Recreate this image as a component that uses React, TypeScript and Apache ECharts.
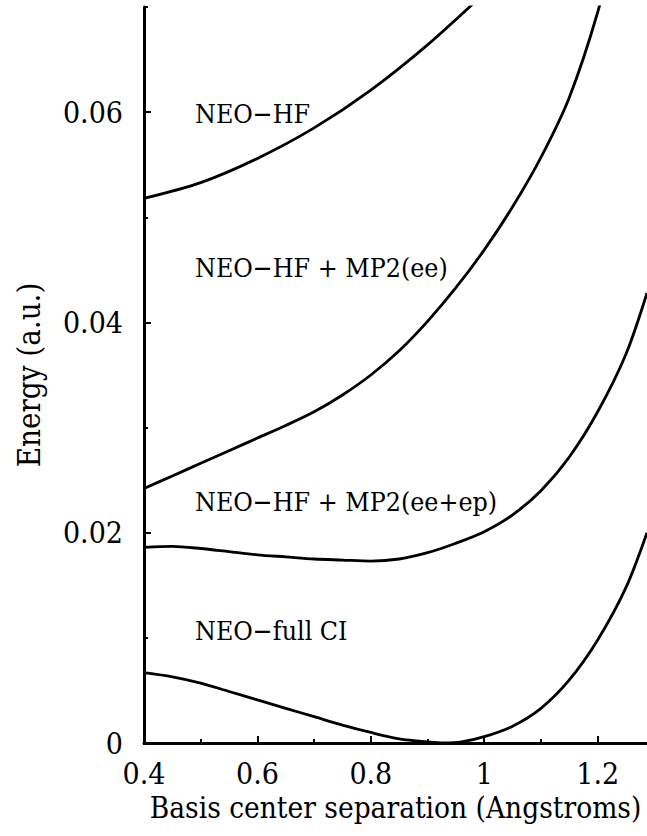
import React, { useEffect, useRef } from "react";
import * as echarts from "echarts";

// Axis ticks and labels
const xTickValues = [0.4, 0.6, 0.8, 1.0, 1.2];
const xMinorTickValues = [0.5, 0.7, 0.9, 1.1];
const yTickValues = [0, 0.02, 0.04, 0.06];
const yMinorTickValues = [0.01, 0.03, 0.05, 0.07];

// NEO-HF
const hfX = [0.4, 0.5, 0.6, 0.7, 0.8, 0.9, 1.0];
const hfY = [0.0518, 0.0533, 0.0556, 0.0585, 0.0621, 0.0664, 0.0713];

// NEO-HF + MP2(ee)
const mp2eeX = [0.4, 0.45, 0.5, 0.55, 0.6, 0.65, 0.7, 0.75, 0.8, 0.85, 0.9, 0.95, 1.0, 1.05, 1.1, 1.15, 1.2, 1.25];
const mp2eeY = [0.0242, 0.0254, 0.0266, 0.0278, 0.029, 0.0302, 0.0315, 0.0331, 0.035, 0.0373, 0.0401, 0.0433, 0.0469, 0.051, 0.0557, 0.0614, 0.0695, 0.08];

// NEO-HF + MP2(ee+ep)
const mp2eepX = [0.4, 0.45, 0.5, 0.55, 0.6, 0.65, 0.7, 0.75, 0.8, 0.85, 0.9, 0.95, 1.0, 1.05, 1.1, 1.15, 1.2, 1.25, 1.287];
const mp2eepY = [0.0186, 0.0187, 0.0185, 0.0182, 0.0179, 0.0177, 0.0175, 0.0174, 0.0173, 0.0175, 0.0181, 0.019, 0.0201, 0.0217, 0.024, 0.0272, 0.0315, 0.037, 0.0428];

// NEO-full CI
const fciX = [0.4, 0.45, 0.5, 0.55, 0.6, 0.65, 0.7, 0.75, 0.8, 0.85, 0.9, 0.93, 0.96, 1.0, 1.05, 1.1, 1.15, 1.2, 1.25, 1.287];
const fciY = [0.0067, 0.0063, 0.0057, 0.0049, 0.0041, 0.0033, 0.0025, 0.0017, 0.001, 0.0004, 0.0001, 0.0, 0.0001, 0.0006, 0.0016, 0.0033, 0.006, 0.0098, 0.0148, 0.02];

// Curve annotations (data coordinates)
const curveLabels = ["NEO\u2212HF", "NEO\u2212HF + MP2(ee)", "NEO\u2212HF + MP2(ee+ep)", "NEO\u2212full CI"];
const labelX = [0.49, 0.49, 0.49, 0.49];
const labelY = [0.0599, 0.0452, 0.023, 0.0107];

const X_MIN = 0.4;
const X_MAX = 1.287;
const Y_MIN = 0;
const Y_MAX = 0.07;

export default function App() {
  const ref = useRef<HTMLDivElement>(null);
  useEffect(() => {
    if (!ref.current) return;
    const chart = echarts.init(ref.current, null, { renderer: "svg" });
    const font = "DejaVu Serif Condensed";
    const zip = (xs: number[], ys: number[]) => xs.map((x, i) => [x, ys[i]]);
    const curves: [string, number[], number[]][] = [
      ["NEO-HF", hfX, hfY],
      ["NEO-HF + MP2(ee)", mp2eeX, mp2eeY],
      ["NEO-HF + MP2(ee+ep)", mp2eepX, mp2eepY],
      ["NEO-full CI", fciX, fciY],
    ];
    const series = curves.map(([name, xs, ys]) => ({
      type: "line",
      name,
      data: zip(xs, ys),
      smooth: 0.3,
      symbol: "none",
      showSymbol: false,
      clip: true,
      silent: true,
      xAxisIndex: 0,
      yAxisIndex: 0,
      lineStyle: { color: "#000", width: 2.8 },
    }));
    const tickLine = { color: "#000", width: 2 };
    const option: any = {
      animation: false,
      backgroundColor: "#fff",
      grid: { left: 144, right: 0, top: 7, bottom: 93, containLabel: false },
      xAxis: [
        {
          type: "value",
          min: X_MIN,
          max: X_MAX,
          position: "bottom",
          name: "Basis center separation (Angstroms)",
          nameLocation: "middle",
          nameGap: 46,
          nameTextStyle: { fontFamily: font, fontSize: 29.5, color: "#000" },
          axisLine: { show: true, onZero: false, lineStyle: { color: "#000", width: 3 } },
          axisTick: { show: true, inside: true, length: 7, customValues: xTickValues, lineStyle: tickLine },
          axisLabel: { show: true, customValues: xTickValues, fontFamily: font, fontSize: 30, color: "#000", margin: 15 },
          splitLine: { show: false },
        },
        {
          type: "value",
          min: X_MIN,
          max: X_MAX,
          position: "bottom",
          axisLine: { show: false, onZero: false },
          axisTick: { show: true, inside: true, length: 4, customValues: xMinorTickValues, lineStyle: tickLine },
          axisLabel: { show: false },
          splitLine: { show: false },
        },
      ],
      yAxis: [
        {
          type: "value",
          min: Y_MIN,
          max: Y_MAX,
          position: "left",
          name: "Energy (a.u.)",
          nameLocation: "middle",
          nameGap: 100,
          nameTextStyle: { fontFamily: font, fontSize: 31, color: "#000" },
          axisLine: { show: true, onZero: false, lineStyle: { color: "#000", width: 3 } },
          axisTick: { show: true, inside: true, length: 7, customValues: yTickValues, lineStyle: tickLine },
          axisLabel: { show: true, customValues: yTickValues, fontFamily: font, fontSize: 30, color: "#000", margin: 21 },
          splitLine: { show: false },
        },
        {
          type: "value",
          min: Y_MIN,
          max: Y_MAX,
          position: "left",
          axisLine: { show: false, onZero: false },
          axisTick: { show: true, inside: true, length: 4, customValues: yMinorTickValues, lineStyle: tickLine },
          axisLabel: { show: false },
          splitLine: { show: false },
        },
      ],
      series,
    };
    chart.setOption(option);
    const graphics = curveLabels.map((t, i) => {
      const p = chart.convertToPixel({ xAxisIndex: 0, yAxisIndex: 0 } as any, [labelX[i], labelY[i]]) as number[];
      return {
        type: "text",
        x: p[0],
        y: p[1],
        silent: true,
        style: {
          text: t,
          fill: "#000",
          fontFamily: font,
          fontSize: 26.5,
          align: "left",
          verticalAlign: "middle",
        },
      };
    });
    chart.setOption({ graphic: graphics });
    return () => chart.dispose();
  }, []);
  return <div ref={ref} style={{ position: "fixed", left: 0, top: 0, width: 647, height: 836 }} />;
}
